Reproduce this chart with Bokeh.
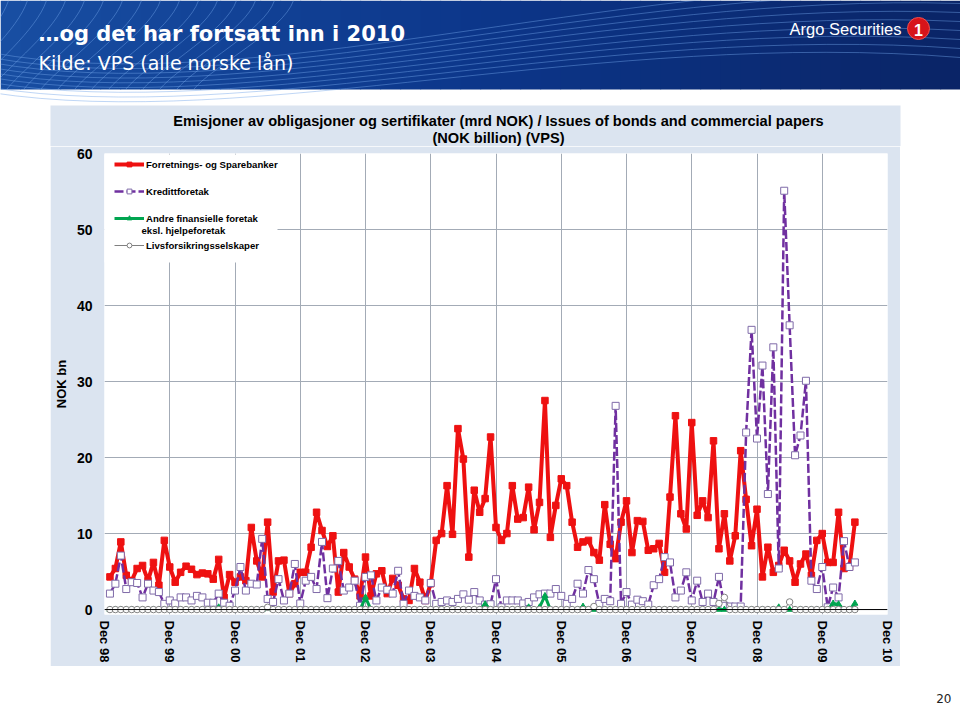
import math
from bokeh.plotting import figure
from bokeh.layouts import column, row
from bokeh.models import (Range1d, FixedTicker, Label, BoxAnnotation, Span,
                          Legend, LegendItem, ColumnDataSource, Spacer)
from bokeh.embed import file_html
from bokeh.resources import INLINE

# ---------------- data ----------------
tick_labels = ["Dec 98", "Dec 99", "Dec 00", "Dec 01", "Dec 02", "Dec 03", "Dec 04",
               "Dec 05", "Dec 06", "Dec 07", "Dec 08", "Dec 09", "Dec 10"]
tick_months = [0, 12, 24, 36, 48, 60, 72, 84, 96, 108, 120, 132, 144]  # months after Dec 98
first_month = 1  # Jan 99

forretnings_og_sparebanker = [
    4.3, 5.4, 8.9, 4.5, 3.8, 5.4, 5.8, 3.8, 6.2, 3.2, 9.1, 5.6,
    3.6, 4.9, 5.7, 5.3, 4.6, 4.8, 4.7, 4.0, 6.6, 1.6, 4.6, 3.6,
    4.3, 3.8, 10.8, 6.4, 4.3, 11.5, 2.3, 6.4, 6.5, 2.1, 3.4, 4.9,
    4.9, 8.2, 12.8, 10.4, 8.3, 9.7, 2.3, 7.5, 5.6, 4.0, 1.8, 6.9,
    1.8, 4.7, 5.1, 2.1, 4.1, 3.2, 1.4, 1.2, 5.4, 3.6, 1.2, 3.4,
    9.1, 10.0, 16.3, 9.9, 23.8, 19.8, 6.9, 15.7, 12.8, 14.6, 22.7, 10.8,
    9.1, 10.0, 16.3, 11.9, 12.1, 16.1, 10.5, 14.1, 27.5, 9.5, 13.7, 17.2,
    16.3, 11.5, 8.2, 8.9, 9.1, 7.5, 6.5, 13.8, 8.6, 6.7, 11.5, 14.3,
    7.5, 11.7, 11.6, 7.8, 8.0, 8.7, 4.9, 14.8, 25.5, 12.6, 10.6, 24.6,
    12.4, 14.3, 12.1, 22.2, 8.0, 12.6, 6.4, 9.7, 20.9, 14.5, 8.4, 13.2,
    4.3, 8.2, 4.9, 5.8, 7.8, 6.4, 3.6, 6.0, 7.3, 4.5, 9.1, 10.0,
    6.2, 6.2, 12.8, 5.4, 5.6, 11.5,
]
kredittforetak = [
    2.1, 3.4, 7.1, 2.7, 3.6, 3.5, 1.6, 3.4, 2.5, 2.3, 0.75, 1.2,
    0.8, 1.6, 1.6, 1.2, 1.8, 1.6, 0.9, 0.9, 2.1, 0.9, 0.5, 2.5,
    5.6, 2.5, 3.4, 3.3, 9.3, 1.4, 1.0, 4.0, 1.2, 2.1, 6.0, 0.8,
    3.8, 4.3, 2.7, 8.9, 1.5, 5.4, 6.4, 2.5, 2.9, 3.8, 0.5, 4.3,
    4.5, 1.2, 2.9, 2.6, 2.1, 5.1, 0.75, 2.5, 1.8, 1.6, 1.2, 3.5,
    0.75, 1.0, 1.2, 1.0, 1.4, 2.0, 1.3, 2.3, 1.2, 0.65, 0.7, 4.0,
    0.3, 1.2, 1.2, 1.2, 0.8, 1.0, 1.6, 2.0, 2.1, 2.1, 2.7, 1.8,
    0.75, 1.4, 3.4, 2.1, 5.2, 4.0, 0.75, 1.4, 1.1, 26.8, 0.75, 2.3,
    0.65, 1.3, 1.1, 0.65, 3.2, 4.0, 6.9, 6.2, 1.6, 2.5, 4.9, 1.2,
    3.8, 1.0, 2.1, 1.0, 4.3, 0.5, 0.4, 0.4, 0.4, 23.3, 36.8, 22.5,
    32.1, 15.2, 34.5, 5.4, 55.1, 37.4, 20.3, 22.9, 30.1, 3.8, 2.7, 5.6,
    0.3, 2.9, 1.6, 9.0, 5.6, 6.2,
]
andre_finansielle = [
    0, 0, 0, 0, 0, 0, 0, 0, 0, 0, 0, 0,
    0, 0, 0, 0, 0, 0, 0, 0, 0.3, 0, 0, 0,
    0, 0, 0, 0, 0, 0.2, 0, 0, 0, 0, 0, 0,
    0, 0, 0, 0, 0, 0, 0, 0, 0, 0, 0, 1.6,
    0, 0, 0, 0, 0, 0, 0, 0, 0, 0, 0, 0,
    0, 0, 0, 0, 0, 0, 0, 0, 0, 0.7, 0, 0,
    0, 0, 0, 0, 0, 0.3, 0, 0.3, 1.8, 0, 0, 0,
    0, 0, 0, 0.4, 0, 0, 0, 0, 0, 0, 0, 0,
    0, 0, 0, 0, 0, 0, 0, 0, 0, 0, 0, 0,
    0, 0, 0, 0, 0, 0, 0, 0, 0, 0, 0, 0,
    0, 0, 0, 0.3, 0, 0, 0, 0, 0, 0, 0, 0,
    0, 0.8, 0.7, 0, 0, 0.8,
]
livsforsikring = [
    0, 0, 0, 0, 0, 0, 0, 0, 0, 0, 0, 0,
    0, 0, 0, 0, 0, 0, 0, 0, 0, 0, 0, 0,
    0, 0, 0, 0, 0, 0.3, 0, 0, 0, 0, 0, 0,
    0, 0, 0, 0, 0, 0, 0, 0, 0, 0, 0, 0,
    0, 0, 0, 0, 0, 0, 0, 0, 0, 0, 0, 0,
    0, 0, 0, 0, 0, 0, 0, 0, 0, 0, 0, 0,
    0, 0, 0, 0, 0, 0, 0, 0, 0, 0, 0, 0,
    0, 0, 0, 0, 0, 0.4, 0, 0, 0, 0, 0, 0,
    0, 0, 0, 0, 0, 0, 0, 0, 0, 0, 0, 0,
    0, 0, 0, 0, 0.8, 1.6, 0, 0, 0, 0, 0, 0,
    0, 0, 0, 0, 0, 1.0, 0, 0, 0, 0, 0, 0,
    0, 0, 0, 0, 0, 0,
]
series_names = ["Forretnings- og Sparebanker", "Kredittforetak",
                "Andre finansielle foretak", "eksl. hjelpeforetak",
                "Livsforsikringsselskaper"]
y_ticks = [0, 10, 20, 30, 40, 50, 60]
slide_title = "\u2026og det har fortsatt inn i 2010"
slide_subtitle = "Kilde: VPS (alle norske l\u00e5n)"
chart_title_1 = "Emisjoner av obligasjoner og sertifikater (mrd NOK) / Issues of bonds and commercial papers"
chart_title_2 = "(NOK billion) (VPS)"
brand = "Argo Securities"
page_no = "20"

months = list(range(first_month, first_month + len(forretnings_og_sparebanker)))
src = ColumnDataSource(dict(month=months, forr=forretnings_og_sparebanker,
                            kred=kredittforetak, andre=andre_finansielle,
                            livs=livsforsikring))

# ---------------- styles ----------------
RED = "#ee1111"
PURPLE = "#7030a0"
PURPLE_MK = "#7f6aa8"
GREEN = "#00a550"
GREY = "#808080"
CHART_BG = "#dbe4f0"
GRID = "#a3abb6"


def deco_figure(w, h):
    f = figure(width=w, height=h, output_backend="svg", toolbar_location=None,
               x_range=Range1d(0, w), y_range=Range1d(h, 0),
               x_axis_type=None, y_axis_type=None, min_border=0,
               background_fill_color="white", border_fill_color="white",
               outline_line_color=None)
    f.title.visible = False
    return f


# ---------------- header (slide band + top of chart panel) ----------------
HH = 146
hdr = deco_figure(960, HH)


def lerp(c0, c1, t):
    return "#%02x%02x%02x" % tuple(int(round(a + (b - a) * t)) for a, b in zip(c0, c1))


c_left, c_mid, c_right = (24, 78, 162), (12, 54, 138), (10, 36, 102)
n = 48
lefts = [k * 960 / n for k in range(n)]
rights = [(k + 1) * 960 / n + 0.6 for k in range(n)]
cols = []
for k in range(n):
    t = (k + 0.5) / n
    cols.append(lerp(c_left, c_mid, t * 2) if t < 0.5 else lerp(c_mid, c_right, (t - 0.5) * 2))
hdr.quad(left=lefts, right=rights, top=[0] * n, bottom=[89] * n, fill_color=cols, line_color=None)

# wave line texture
bx0, by0, bx1, by1, bcx0, bcy0, bcx1, bcy1 = [], [], [], [], [], [], [], []
for k in range(16):
    xt = 8 + 19 * k
    bx0.append(xt); by0.append(0)
    bx1.append(xt - 70 - 2 * k); by1.append(89)
    bcx0.append(xt - 10); bcy0.append(30)
    bcx1.append(xt - 50 - 2 * k); bcy1.append(65)
for k in range(9):
    bx0.append(-10); by0.append(52 + 5 * k)
    bx1.append(960); by1.append(-15 + 9 * k)
    bcx0.append(250); bcy0.append(100 + 4 * k)
    bcx1.append(600); bcy1.append(-20 + 6 * k)
hdr.bezier(x0=bx0, y0=by0, x1=bx1, y1=by1, cx0=bcx0, cy0=bcy0, cx1=bcx1, cy1=bcy1,
           line_color="#72a4e8", line_alpha=0.45, line_width=1)

# top of the light-blue chart panel
hdr.quad(left=[50], right=[900], top=[105], bottom=[HH + 1], fill_color=CHART_BG, line_color=None)

hdr.add_layout(Label(x=38, y=33, text=slide_title, text_font="DejaVu Sans",
                     text_font_style="bold", text_font_size="21px", text_color="white",
                     text_baseline="middle"))
hdr.add_layout(Label(x=38, y=62, text=slide_subtitle, text_font="DejaVu Sans",
                     text_font_size="19px", text_color="white", text_baseline="middle"))
hdr.add_layout(Label(x=901, y=28, text=brand, text_font="Liberation Sans",
                     text_font_size="16.5px", text_color="white", text_align="right",
                     text_baseline="middle"))
hdr.scatter(x=[918], y=[28], marker="circle", size=22, fill_color="#d7141a",
            line_color="#f05050", line_width=1)
hdr.add_layout(Label(x=918, y=29, text="1", text_font="Liberation Sans",
                     text_font_style="bold", text_font_size="16px", text_color="white",
                     text_align="center", text_baseline="middle"))
hdr.add_layout(Label(x=498, y=120, text=chart_title_1, text_font="Liberation Sans",
                     text_font_style="bold", text_font_size="14.6px", text_color="black",
                     text_align="center", text_baseline="middle"))
hdr.add_layout(Label(x=498, y=137, text=chart_title_2, text_font="Liberation Sans",
                     text_font_style="bold", text_font_size="14.6px", text_color="black",
                     text_align="center", text_baseline="middle"))

# ---------------- chart ----------------
CW, CH = 850, 520   # placed at page (50, 146)
p = figure(width=CW, height=CH, output_backend="svg", toolbar_location=None,
           x_range=Range1d(0, 144), y_range=Range1d(-0.65, 60),
           min_border_left=50, min_border_right=13, min_border_top=7,
           min_border_bottom=52, background_fill_color="white",
           border_fill_color=CHART_BG, outline_line_color=None)
p.title.visible = False

p.xaxis.ticker = FixedTicker(ticks=tick_months)
p.xaxis.major_label_overrides = {m: l for m, l in zip(tick_months, tick_labels)}
p.xaxis.major_label_orientation = -math.pi / 2
p.xaxis.axis_line_color = None
p.xaxis.major_tick_line_color = None
p.xaxis.minor_tick_line_color = None
p.xaxis.major_tick_out = 0
p.xaxis.major_tick_in = 0
p.xaxis.minor_tick_out = 0
p.xaxis.major_label_standoff = 6
p.xaxis.major_label_text_font = "Liberation Sans"
p.xaxis.major_label_text_font_style = "bold"
p.xaxis.major_label_text_font_size = "13px"
p.xaxis.major_label_text_color = "black"

p.yaxis.ticker = FixedTicker(ticks=y_ticks)
p.yaxis.axis_label = "NOK bn"
p.yaxis.axis_label_text_font = "Liberation Sans"
p.yaxis.axis_label_text_font_style = "bold"
p.yaxis.axis_label_text_font_size = "13px"
p.yaxis.axis_label_text_color = "black"
p.yaxis.axis_label_standoff = 5
p.yaxis.axis_line_color = None
p.yaxis.major_tick_line_color = None
p.yaxis.minor_tick_line_color = None
p.yaxis.major_tick_out = 0
p.yaxis.major_tick_in = 0
p.yaxis.minor_tick_out = 0
p.yaxis.major_label_standoff = 12
p.yaxis.major_label_text_font = "Liberation Sans"
p.yaxis.major_label_text_font_style = "bold"
p.yaxis.major_label_text_font_size = "14px"
p.yaxis.major_label_text_color = "black"

p.xgrid.ticker = FixedTicker(ticks=tick_months)
p.ygrid.ticker = FixedTicker(ticks=y_ticks)
p.xgrid.grid_line_color = GRID
p.ygrid.grid_line_color = GRID

r1l = p.line("month", "forr", source=src, line_color=RED, line_width=4)
r1p = p.scatter("month", "forr", source=src, marker="square", size=6.5,
                fill_color=RED, line_color=RED)
r2l = p.line("month", "kred", source=src, line_color=PURPLE, line_width=2.5,
             line_dash="9 3")
r2p = p.scatter("month", "kred", source=src, marker="square", size=7,
                fill_color="white", line_color=PURPLE_MK, line_width=1)
r3l = p.line("month", "andre", source=src, line_color=GREEN, line_width=3)
r3p = p.scatter("month", "andre", source=src, marker="triangle", size=6,
                fill_color=GREEN, line_color=GREEN)
r4l = p.line("month", "livs", source=src, line_color=GREY, line_width=1)
r4p = p.scatter("month", "livs", source=src, marker="circle", size=6.5,
                fill_color="white", line_color=GREY, line_width=1)

p.add_layout(Span(location=0, dimension="width", line_color="black", line_width=1))

# white legend panel (canvas coords of this figure)
p.add_layout(BoxAnnotation(left=53, right=227, top=8, bottom=116,
                           left_units="canvas", right_units="canvas",
                           top_units="canvas", bottom_units="canvas",
                           fill_color="white", fill_alpha=1.0, line_color=None))


def mk_legend(items, loc, spacing=15):
    return Legend(items=items, location=loc, orientation="vertical",
                  glyph_width=30, glyph_height=12, label_height=12,
                  label_standoff=2, padding=0, margin=0, spacing=spacing,
                  background_fill_alpha=0, border_line_color=None,
                  label_text_font="Liberation Sans", label_text_font_style="bold",
                  label_text_font_size="9.6px", label_text_color="black")


p.add_layout(mk_legend([LegendItem(label=series_names[0], renderers=[r1l, r1p]),
                        LegendItem(label=series_names[1], renderers=[r2l, r2p])],
                       (10, 417)))
p.add_layout(mk_legend([LegendItem(label=series_names[2], renderers=[r3l, r3p])],
                       (10, 390)))
p.add_layout(mk_legend([LegendItem(label=series_names[4], renderers=[r4l, r4p])],
                       (10, 363)))
p.add_layout(Label(x=91, y=84, x_units="canvas", y_units="canvas", text=series_names[3],
                   text_font="Liberation Sans", text_font_style="bold",
                   text_font_size="9.6px", text_baseline="middle", text_color="black"))

# ---------------- footer ----------------
FH = 43
ftr = deco_figure(960, FH)
ftr.add_layout(Label(x=951, y=32, text=page_no, text_font="DejaVu Sans",
                     text_font_size="12px", text_color="#222222", text_align="right",
                     text_baseline="middle"))

layout = column(hdr,
                row(Spacer(width=50, height=CH), p, Spacer(width=60, height=CH), spacing=0),
                ftr, spacing=0)

open("out.html", "w").write(file_html(layout, INLINE))
